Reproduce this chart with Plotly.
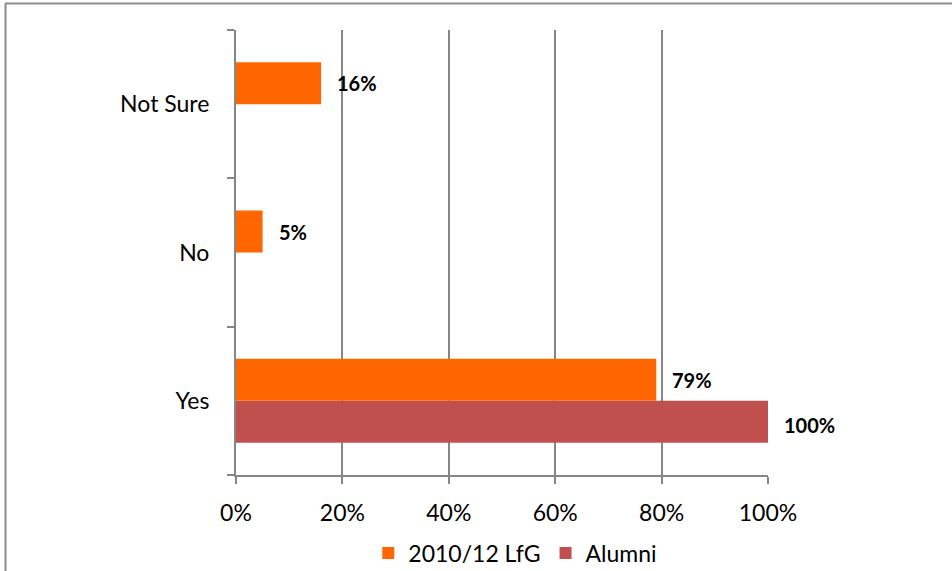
import plotly.graph_objects as go

categories = ["Yes", "No", "Not Sure"]
lfg_values = [79, 5, 16]
alumni_values = [100, 0, 0]
lfg_labels = ["79%", "5%", "16%"]
alumni_labels = ["100%", "", ""]
x_ticks = [0, 20, 40, 60, 80, 100]
x_tick_labels = ["0%", "20%", "40%", "60%", "80%", "100%"]

ORANGE = "#FF6600"
RED = "#C0504D"
GRID = "#868686"
FONT = "Lato"

fig = go.Figure()
fig.add_trace(go.Bar(
    y=categories, x=alumni_values, orientation="h", name="Alumni",
    marker=dict(color=RED, line=dict(width=0)), legendrank=2,
    textposition="none", hoverinfo="skip",
))
fig.add_trace(go.Bar(
    y=categories, x=lfg_values, orientation="h", name="2010/12 LfG",
    marker=dict(color=ORANGE, line=dict(width=0)), legendrank=1,
    hoverinfo="skip",
))

# data labels
annotations = []
for cat, v, lab in zip(categories, lfg_values, lfg_labels):
    annotations.append(dict(x=v, y=cat, text=f"<b>{lab}</b>", showarrow=False,
                            xanchor="left", xshift=14, yshift=21,
                            font=dict(family=FONT, size=20, color="black")))
for cat, v, lab in zip(categories, alumni_values, alumni_labels):
    if lab:
        annotations.append(dict(x=v, y=cat, text=f"<b>{lab}</b>", showarrow=False,
                                xanchor="left", xshift=14, yshift=-24,
                                font=dict(family=FONT, size=20, color="black")))

W, H = 952, 571
L, R, T, B = 236, 184, 30, 96
pw, ph = W - L - R, H - T - B

def px_x(p):
    return (p - L) / pw

def px_y(p):
    return (H - B - p) / ph

shapes = [
    dict(type="line", xref="paper", yref="paper", x0=px_x(5), x1=px_x(960),
         y0=px_y(3.5), y1=px_y(3.5), line=dict(color="#8c8c8c", width=2)),
    dict(type="line", xref="paper", yref="paper", x0=px_x(5.5), x1=px_x(5.5),
         y0=px_y(3.5), y1=px_y(580), line=dict(color="#8c8c8c", width=2)),
]

fig.update_layout(
    width=W, height=H,
    margin=dict(l=L, r=R, t=T, b=B, pad=0, autoexpand=False),
    paper_bgcolor="white", plot_bgcolor="white",
    barmode="group", bargap=0.434, bargroupgap=0,
    font=dict(family=FONT, size=23, color="black"),
    showlegend=True,
    legend=dict(orientation="h", x=0.525, xanchor="center", y=px_y(553), yanchor="middle",
                font=dict(family=FONT, size=23), itemwidth=30, traceorder="normal"),
    annotations=annotations,
    shapes=shapes,
)
fig.update_xaxes(
    range=[0, 100], tickvals=x_ticks, ticktext=x_tick_labels,
    showgrid=True, gridcolor=GRID, gridwidth=2,
    showline=True, linecolor=GRID, linewidth=2,
    ticks="outside", ticklen=7, tickwidth=2, tickcolor=GRID,
    ticklabelstandoff=9, zeroline=False, fixedrange=True,
)
fig.update_yaxes(
    categoryorder="array", categoryarray=categories,
    showgrid=False, showline=True, linecolor=GRID, linewidth=2,
    ticks="outside", ticklen=7, tickwidth=2, tickcolor=GRID,
    tickson="boundaries", ticklabelstandoff=20, fixedrange=True,
)

fig.write_html("out.html")
